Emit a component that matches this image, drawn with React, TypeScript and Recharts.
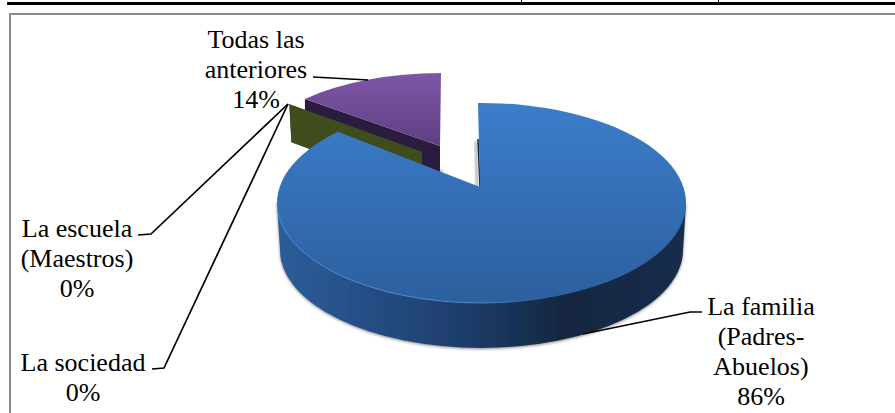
import { PieChart, Pie } from "recharts"

const categorias = ["La familia (Padres-Abuelos)", "La escuela (Maestros)", "La sociedad", "Todas las anteriores"]
const valores = [86, 0, 0, 14]

const datos = categorias.map((nombre, i) => ({ nombre, valor: valores[i] }))

// lineas de texto de cada etiqueta
const lineasEtiqueta = [
  ["La familia", "(Padres-", "Abuelos)"],
  ["La escuela", "(Maestros)"],
  ["La sociedad"],
  ["Todas las", "anteriores"],
]

const SERIF = "'Liberation Serif', 'Times New Roman', serif"
const ANCHO = 895
const ALTO = 413
const CX = 481.5
const CY = 203
const RADIO = 204.5
const APLASTADO = 100 / 204.5

// la vista 3D comprime un poco el angulo arriba
const proyectar = (theta: number) => Math.atan2(0.815 * Math.sin(theta), Math.cos(theta))

type Elipse = { x: number; y: number; rx: number; ry: number }

const punto = (e: Elipse, angulo: number) => {
  const phi = proyectar(((90 - angulo) * Math.PI) / 180)
  return { x: e.x + e.rx * Math.sin(phi), y: e.y - e.ry * Math.cos(phi) }
}

const rebanadaFamilia = (p: any) => {
  const cara = { x: p.cx, y: p.cy, rx: p.outerRadius, ry: p.outerRadius * APLASTADO }
  const abajo = { x: p.cx, y: p.cy + 47, rx: p.outerRadius - 3, ry: cara.ry - 2 }
  const ini = punto(cara, p.startAngle)
  const fin = punto(cara, p.endAngle)
  const apice = { x: p.cx - 1.5, y: p.cy - 16 }
  return (
    <g>
      <path
        d={`M${cara.x - cara.rx} ${cara.y} L${abajo.x - abajo.rx} ${abajo.y} A${abajo.rx} ${abajo.ry} 0 0 0 ${abajo.x + abajo.rx} ${abajo.y} L${cara.x + cara.rx} ${cara.y} Z`}
        fill="url(#paredAzul)"
        filter="url(#sombra)"
      />
      <line x1={apice.x - 4} y1={apice.y - 46} x2={apice.x - 3} y2={apice.y} stroke="#777" strokeWidth={3} opacity={0.5} filter="url(#difuso)" />
      <line x1={apice.x - 2} y1={apice.y - 48} x2={apice.x} y2={apice.y} stroke="#14273f" strokeWidth={1.5} />
      <path
        d={`M${apice.x} ${apice.y} L${ini.x - 3.5} ${ini.y} A${cara.rx} ${cara.ry} 0 1 1 ${fin.x} ${fin.y} Z`}
        fill="url(#caraAzul)"
      />
      <path
        d={`M${cara.x - cara.rx} ${cara.y} A${cara.rx} ${cara.ry} 0 0 0 ${cara.x + cara.rx} ${cara.y}`}
        fill="none"
        stroke="url(#brillo)"
        strokeWidth={1}
      />
    </g>
  )
}

const rebanadaTodas = (p: any) => {
  const e = { x: p.cx - 40.5, y: p.cy - 40, rx: p.outerRadius * 0.948, ry: p.outerRadius * 0.44 }
  const ini = punto(e, p.startAngle)
  const fin = punto(e, p.endAngle)
  const apice = { x: e.x - 1, y: e.y - 17 }
  return (
    <g>
      <line x1={ini.x + 2} y1={ini.y + 36} x2={apice.x + 3} y2={apice.y + 26} stroke="#777" strokeWidth={3} opacity={0.5} filter="url(#difuso)" />
      <path
        d={`M${ini.x} ${ini.y} L${apice.x} ${apice.y} L${apice.x} ${apice.y + 30} L${ini.x} ${ini.y + 38} Z`}
        fill="#2b1c3f"
      />
      <path
        d={`M${apice.x} ${apice.y} L${ini.x} ${ini.y} A${e.rx} ${e.ry} 0 0 1 ${fin.x} ${fin.y} Z`}
        fill="url(#caraMorada)"
      />
    </g>
  )
}

// las rebanadas de 0% solo dejan ver su pared
const paredCero = (p: any) => {
  const e = { x: p.cx - 59.5, y: p.cy - 34, rx: p.outerRadius * 0.924, ry: p.outerRadius * 0.445 }
  const borde = punto(e, p.startAngle)
  const apice = { x: e.x, y: e.y - 17 }
  return (
    <path
      d={`M${borde.x} ${borde.y} L${apice.x} ${apice.y} L${apice.x} ${apice.y + 38} L${borde.x + 2} ${borde.y + 38} Z`}
      fill="#3f4d1c"
    />
  )
}

const capaDe = (indices: number[], dibujar: (p: any) => any) => (p: any) =>
  indices.includes(p.index) ? dibujar(p) : <g />

// posicion de cada etiqueta y su linea guia
const cajasEtiqueta = [
  { x: 761, y: 315, guia: "702,312 690,312 583,334" },
  { x: 77, y: 237, guia: "138,235 151,234 288,104" },
  { x: 83, y: 371, guia: "152,369 164,368 288,104" },
  { x: 256, y: 48, guia: "313,77 368,80" },
]

const etiqueta = (p: any) => {
  const caja = cajasEtiqueta[p.index]
  const lineas = [...lineasEtiqueta[p.index], `${valores[p.index]}%`]
  return (
    <g key={p.index}>
      <polyline points={caja.guia} fill="none" stroke="#000" strokeWidth={1.7} />
      <text x={caja.x} y={caja.y} textAnchor="middle" fontFamily={SERIF} fontSize={26} fill="#000">
        {lineas.map((l, i) => (
          <tspan key={i} x={caja.x} y={caja.y + i * 30}>
            {l}
          </tspan>
        ))}
      </text>
    </g>
  )
}

const piePropsBase = {
  data: datos,
  dataKey: "valor",
  nameKey: "nombre",
  cx: CX,
  cy: CY,
  outerRadius: RADIO,
  startAngle: 90,
  endAngle: -270,
  stroke: "none",
  isAnimationActive: false,
}

export default function App() {
  return (
    <div style={{ position: "absolute", left: 0, top: 0, width: ANCHO, height: ALTO, background: "#fff", overflow: "hidden" }}>
      {/* tabla de arriba y borde del grafico */}
      <div style={{ position: "absolute", left: 7, top: 2, right: 0, height: 2.5, background: "#000" }} />
      <div style={{ position: "absolute", left: 521, top: 0, width: 1, height: 3, background: "#000" }} />
      <div style={{ position: "absolute", left: 718, top: 0, width: 1, height: 3, background: "#000" }} />
      <div style={{ position: "absolute", left: 9, top: 13, right: 0, height: 1.5, background: "#8a8a8a" }} />
      <div style={{ position: "absolute", left: 9, top: 13, bottom: 0, width: 1.5, background: "#8a8a8a" }} />
      <PieChart width={ANCHO} height={ALTO} margin={{ top: 0, right: 0, bottom: 0, left: 0 }} style={{ position: "absolute", left: 0, top: 0 }}>
        <defs>
          <linearGradient id="caraAzul" x1="0" y1="0" x2="0" y2="1">
            <stop offset="0%" stopColor="#3c7dca" />
            <stop offset="100%" stopColor="#2c5f9e" />
          </linearGradient>
          <linearGradient id="paredAzul" x1="0" y1="0" x2="1" y2="0">
            <stop offset="0%" stopColor="#2c5d9b" />
            <stop offset="45%" stopColor="#1e3e6c" />
            <stop offset="70%" stopColor="#14273f" />
            <stop offset="100%" stopColor="#182d4c" />
          </linearGradient>
          <linearGradient id="caraMorada" x1="0" y1="0" x2="0" y2="1">
            <stop offset="0%" stopColor="#7f56a8" />
            <stop offset="100%" stopColor="#5e3f82" />
          </linearGradient>
          <linearGradient id="brillo" x1="0" y1="0" x2="1" y2="0">
            <stop offset="0%" stopColor="#4f8ad2" />
            <stop offset="50%" stopColor="#4f8ad2" />
            <stop offset="75%" stopColor="#3a6fae" stopOpacity={0} />
          </linearGradient>
          <filter id="sombra" x="-5%" y="-5%" width="110%" height="115%">
            <feDropShadow dx={0} dy={1} stdDeviation={1.5} floodColor="#555" floodOpacity={0.7} />
          </filter>
          <filter id="difuso" x="-200%" y="-10%" width="500%" height="120%">
            <feGaussianBlur stdDeviation={0.8} />
          </filter>
        </defs>
        <Pie {...piePropsBase} shape={capaDe([3], rebanadaTodas)} />
        <Pie {...piePropsBase} shape={capaDe([1, 2], paredCero)} />
        <Pie {...piePropsBase} shape={capaDe([0], rebanadaFamilia)} label={etiqueta} labelLine={false} />
      </PieChart>
    </div>
  )
}
